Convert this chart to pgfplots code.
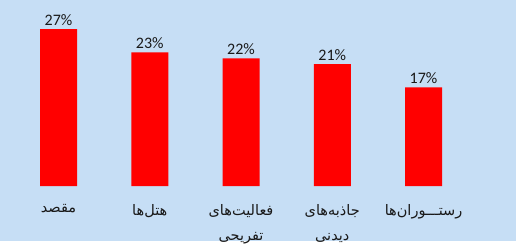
\documentclass[border=0pt]{standalone}
\usepackage{pgfplots}
\pgfplotsset{compat=1.18}
\usepackage{fontspec}
\setmainfont{Carlito}
\newfontfamily\arabicfont[Script=Arabic]{DejaVu Sans}
\TeXXeTstate=1
\definecolor{bgblue}{RGB}{198,222,245}
\definecolor{barred}{RGB}{255,0,0}
\begin{document}
\begin{tikzpicture}[x=1pt,y=1pt]
\fill[bgblue] (0,0) rectangle (516,-241);
\path (0,0) (520,-247);
\begin{axis}[
  at={(0,0)}, anchor=north west,
  scale only axis, width=520pt, height=186pt,
  xmin=-0.6411, xmax=5.0575, ymin=0, ymax=32.01,
  axis line style={draw=none},
  major tick length=0pt,
  ytick=\empty,
  xtick={0,1,2,3,4},
  xticklabels={{\beginR مقصد\endR},{\beginR هتل‌ها\endR},{\beginR فعالیت‌های\endR\\\beginR تفریحی\endR},{\beginR جاذبه‌های\endR\\\beginR دیدنی\endR},{\beginR رستـــوران‌ها\endR}},
  x tick label style={font=\arabicfont\fontsize{14.5}{25}\selectfont, align=center, anchor=north, yshift=-15pt, text=black!90},
  clip=false,
  point meta=explicit symbolic,
  nodes near coords,
  every node near coord/.append style={font=\fontsize{16}{19}\selectfont, text=black!90, anchor=south, yshift=0pt},
]
\addplot[ybar, bar width=37pt, fill=barred, draw=none] coordinates {
  (0,27) [27\%]
  (1,23) [23\%]
  (2,22) [22\%]
  (3,21) [21\%]
  (4,17) [17\%]
};
\end{axis}
\end{tikzpicture}
\end{document}
